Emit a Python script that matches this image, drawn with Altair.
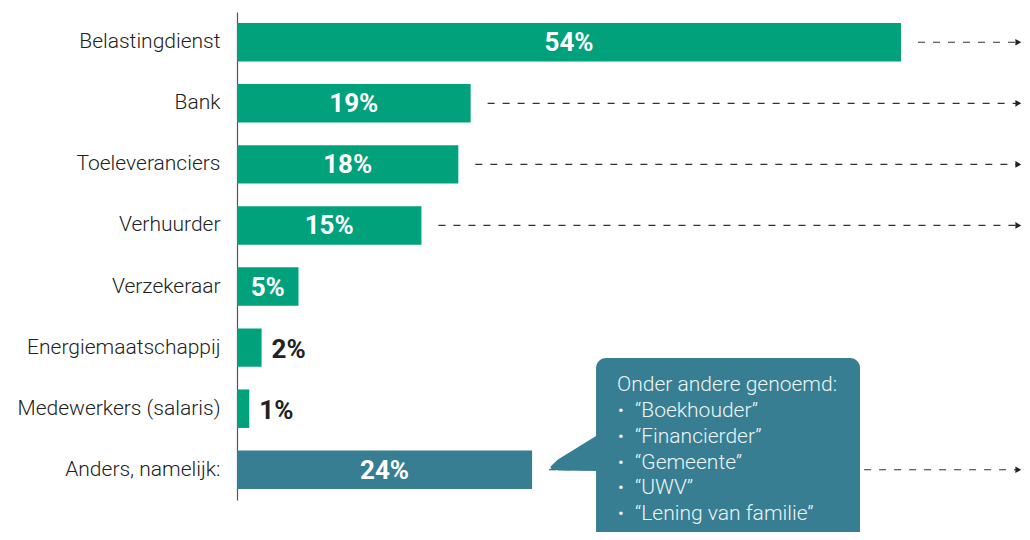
import altair as alt
import pandas as pd

categories = ["Belastingdienst", "Bank", "Toeleveranciers", "Verhuurder",
              "Verzekeraar", "Energiemaatschappij", "Medewerkers (salaris)",
              "Anders, namelijk:"]
values = [54, 19, 18, 15, 5, 2, 1, 24]
groups = ["main"] * 7 + ["other"]
has_arrow = [True, True, True, True, False, False, False, True]

callout_header = "Onder andere genoemd:"
callout_items = ["“Boekhouder”", "“Financierder”", "“Gemeente”", "“UWV”", "“Lening van familie”"]

GREEN = "#00a17b"
TEAL = "#377e92"
W, H = 785, 488
PX_PER_PCT = 12.296
XMAX = W / PX_PER_PCT
ARROW_END = XMAX - 0.3

df = pd.DataFrame({"cat": categories, "value": values, "group": groups, "arrow": has_arrow})
df["label"] = df["value"].astype(str) + "%"
df["end"] = ARROW_END

y_enc = alt.Y("cat:N", sort=categories,
              scale=alt.Scale(paddingInner=0.37, paddingOuter=0.18),
              axis=alt.Axis(title=None, ticks=False, domain=True, domainColor="#555",
                            domainWidth=1.2, labelFont="Roboto", labelFontWeight=300,
                            labelFontSize=21, labelColor="#222", labelPadding=17,
                            labelLimit=300))
xs = alt.Scale(domain=[0, XMAX], nice=False, zero=True)
x_enc = alt.X("value:Q", scale=xs, axis=None)

base = alt.Chart(df)

bars = base.mark_bar().encode(
    x=x_enc, y=y_enc,
    color=alt.Color("group:N", scale=alt.Scale(domain=["main", "other"], range=[GREEN, TEAL]),
                    legend=None),
)

arrows = base.transform_filter("datum.arrow").mark_rule(
    strokeDash=[7, 8], color="#333", strokeWidth=1.2, xOffset=17
).encode(x=x_enc, x2="end:Q", y=y_enc)

heads = base.transform_filter("datum.arrow").mark_point(
    shape="triangle-right", filled=True, color="#222", size=45, opacity=1
).encode(x=alt.X("end:Q", scale=xs, axis=None), y=y_enc)

inside = base.transform_filter("datum.value >= 5").transform_calculate(
    mid="datum.value / 2"
).mark_text(font="Roboto", fontWeight="bold", fontSize=26, color="white",
            align="center", baseline="middle", dy=1).encode(
    x=alt.X("mid:Q", scale=xs, axis=None),
    y=y_enc, text="label:N")

outside = base.transform_filter("datum.value < 5").mark_text(
    font="Roboto", fontWeight="bold", fontSize=26, color="#222",
    align="left", baseline="middle", dx=10, dy=2).encode(
    x=x_enc, y=y_enc, text="label:N")

# callout (annotation, placed in x data units and pixel y)
box_df = pd.DataFrame({"x1": [29.2], "x2": [50.67], "y1": [346], "y2": [540]})
box = alt.Chart(box_df).mark_rect(color=TEAL, cornerRadius=10).encode(
    x=alt.X("x1:Q", scale=xs, axis=None),
    x2="x2:Q",
    y=alt.Y("y1:Q", scale=None, axis=None),
    y2="y2:Q",
)

tail_df = pd.DataFrame({"x": [25.5, 26.1, 29.6], "y": [454.5, 447.5, 421.0],
                        "y2": [456.5, 458.5, 459.0]})
tail = alt.Chart(tail_df).mark_area(color=TEAL, interpolate="linear").encode(
    x=alt.X("x:Q", scale=xs, axis=None),
    y=alt.Y("y:Q", scale=None, axis=None),
    y2="y2:Q",
)

TXT = "#eef4f5"
header = alt.Chart(box_df).mark_text(
    text=[callout_header], font="Roboto", fontWeight=300, fontSize=21, color=TXT,
    align="left", baseline="alphabetic").encode(x=alt.value(380), y=alt.value(379))
bullets = alt.Chart(box_df).mark_text(
    text=["•"] * len(callout_items), font="Roboto", fontSize=17, color=TXT,
    align="left", baseline="alphabetic", lineHeight=25.8).encode(
    x=alt.value(381), y=alt.value(404))
items = alt.Chart(box_df).mark_text(
    text=callout_items, font="Roboto", fontWeight=300, fontSize=21, color=TXT,
    align="left", baseline="alphabetic", lineHeight=25.8).encode(
    x=alt.value(398), y=alt.value(405))

main = alt.layer(bars, arrows, heads, inside, outside)
anno = alt.layer(box, tail, header, bullets, items)

chart = alt.layer(main, anno).resolve_scale(y="independent").properties(
    width=W, height=H,
    autosize=alt.AutoSizeParams(type="none"),
    padding={"left": 229, "top": 4, "right": 0, "bottom": 32},
).configure_view(stroke=None)

chart.save("out.html", embed_options={"renderer": "svg", "actions": False})
